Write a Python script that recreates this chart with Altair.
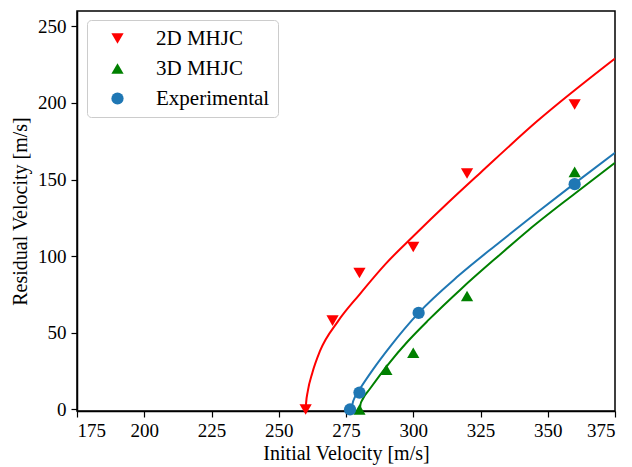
import altair as alt
import pandas as pd

# ---- data ----
series = ["2D MHJC", "3D MHJC", "Experimental"]
colors = ["#ff0000", "#008000", "#1f77b4"]
shapes = ["triangle-down", "triangle-up", "circle"]

x_2d = [260, 270, 280, 300, 320, 360]
y_2d = [0, 58, 89, 106, 154, 199]
x_3d = [280, 290, 300, 320, 360]
y_3d = [0, 26, 37, 74, 155]
x_exp = [276.5, 280, 302, 360]
y_exp = [0, 11, 63, 147]

# fitted curves
fit_2d_x = [260, 260.15, 260.8, 262.5, 265.3, 272, 280, 290, 300, 313, 325, 346, 375]
fit_2d_y = [0, 4, 12, 24, 38, 57.5, 75, 95.5, 113, 135, 154.5, 188, 229]
fit_3d_x = [280.2, 280.35, 281.3, 283.9, 290.7, 298, 305.8, 318, 332.2, 342.8, 360, 375]
fit_3d_y = [0, 3, 7, 13.5, 29.5, 44.5, 58.6, 79, 101, 117, 140.8, 161]
fit_exp_x = [277.2, 277.4, 278.3, 280.2, 285, 291.4, 302, 317, 332, 346, 360, 375]
fit_exp_y = [0, 3.5, 8, 13.5, 26, 41, 63, 87.5, 109, 128.5, 147.5, 167.5]

x_ticks = [175, 200, 225, 250, 275, 300, 325, 350, 375]
y_ticks = [0, 50, 100, 150, 200, 250]

# ---- tables ----
pts = pd.concat([
    pd.DataFrame({"vi": x_2d, "vr": y_2d, "series": series[0]}),
    pd.DataFrame({"vi": x_3d, "vr": y_3d, "series": series[1]}),
    pd.DataFrame({"vi": x_exp, "vr": y_exp, "series": series[2]}),
], ignore_index=True)

fits = [(fit_2d_x, fit_2d_y), (fit_3d_x, fit_3d_y), (fit_exp_x, fit_exp_y)]

FONT = "Liberation Serif"

xenc = alt.X(
    "vi:Q",
    scale=alt.Scale(domain=[175, 375], nice=False, zero=False),
    axis=alt.Axis(values=x_ticks, title="Initial Velocity [m/s]", grid=False,
                  tickSize=6, labelPadding=4, titlePadding=3, labelFontSize=19),
)
yenc = alt.Y(
    "vr:Q",
    scale=alt.Scale(domain=[-1, 260], nice=False, zero=False),
    axis=alt.Axis(values=y_ticks, title="Residual Velocity [m/s]", grid=False,
                  tickSize=6, labelPadding=5, titlePadding=7, labelFontSize=19),
)

line_layers = []
for (fx, fy), col in zip(fits, colors):
    df = pd.DataFrame({"vi": fx, "vr": fy})
    line_layers.append(
        alt.Chart(df).mark_line(strokeWidth=2, interpolate="monotone", clip=True,
                                color=col).encode(x=xenc, y=yenc)
    )

leg = alt.Legend(title=None, orient="none", legendX=10, legendY=9,
                 padding=8, symbolOffset=12, labelOffset=28,
                 rowPadding=8, labelFont=FONT, labelFontSize=21,
                 labelColor="black", symbolSize=150,
                 strokeColor="#cccccc", cornerRadius=4,
                 fillColor="white", symbolStrokeWidth=0)

point_layer = alt.Chart(pts).mark_point(filled=True, size=150, opacity=1).encode(
    x=xenc,
    y=yenc,
    color=alt.Color("series:N", scale=alt.Scale(domain=series, range=colors), legend=leg),
    shape=alt.Shape("series:N", scale=alt.Scale(domain=series, range=shapes), legend=leg),
)

chart = alt.layer(*line_layers, point_layer).properties(
    width=538,
    height=400,
    autosize=alt.AutoSizeParams(type="none"),
    padding={"left": 77, "top": 11, "right": 17, "bottom": 56},
    background="white",
).configure_view(
    stroke="black", strokeWidth=1.5
).configure_axis(
    labelFont=FONT, labelFontSize=19, labelColor="black",
    titleFont=FONT, titleFontSize=20, titleFontWeight="normal", titleColor="black",
    domainColor="black", domainWidth=1.5, tickColor="black", tickWidth=1.2,
)

chart.save("out.html", embed_options={"renderer": "svg", "actions": False})
